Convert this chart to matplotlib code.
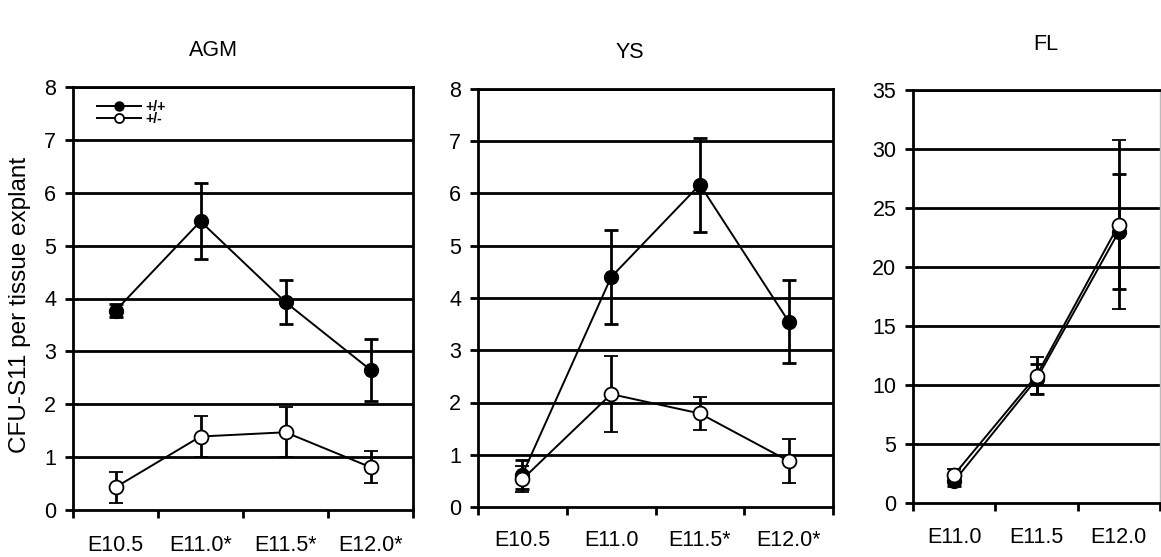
import matplotlib
matplotlib.use("Agg")
import matplotlib.pyplot as plt
import numpy as np

plt.rcParams['font.family'] = ['Liberation Sans', 'DejaVu Sans']

# ---- data ----
agm_labels = ["E10.5", "E11.0*", "E11.5*", "E12.0*"]
agm_wt = [3.77, 5.46, 3.93, 2.65]
agm_wt_err = [0.12, 0.72, 0.42, 0.58]
agm_het = [0.43, 1.39, 1.47, 0.81]
agm_het_err = [0.29, 0.38, 0.47, 0.30]

ys_labels = ["E10.5", "E11.0", "E11.5*", "E12.0*"]
ys_wt = [0.62, 4.40, 6.17, 3.55]
ys_wt_err = [0.28, 0.90, 0.90, 0.80]
ys_het = [0.53, 2.16, 1.79, 0.88]
ys_het_err = [0.25, 0.73, 0.31, 0.43]

fl_labels = ["E11.0", "E11.5", "E12.0"]
fl_wt = [1.85, 10.5, 23.0]
fl_wt_err = [0.4, 1.3, 4.9]
fl_het = [2.4, 10.8, 23.6]
fl_het_err = [0.5, 1.6, 7.2]

titles = ["AGM", "YS", "FL"]
ylabel = "CFU-S11 per tissue explant"
legend_labels = ["+/+", "+/-"]

W, H = 1161, 557
fig = plt.figure(figsize=(W / 100, H / 100), dpi=100)

def px_axes(l, r, t, b):
    return fig.add_axes([l / W, 1 - b / H, (r - l) / W, (b - t) / H])

ax1 = px_axes(73, 413, 87, 510)
ax2 = px_axes(478, 833, 89, 507)
ax3 = px_axes(913, 1160, 90, 503)

def draw(ax, labels, wt, wte, het, hete, ymax, ystep, xpad, right_color='black'):
    n = len(labels)
    x = np.arange(n) + 0.5
    for yv in np.arange(ystep, ymax + 0.001, ystep):
        ax.axhline(yv, color='black', lw=2.0, zorder=1)
    h1 = ax.errorbar(x, wt, yerr=wte, color='black', lw=1.4, elinewidth=2.0,
                     capsize=5, capthick=2.0, marker='o', ms=10,
                     mfc='black', mec='black', zorder=3)
    h2 = ax.errorbar(x, het, yerr=hete, color='black', lw=1.4, elinewidth=2.0,
                     capsize=5, capthick=2.0, marker='o', ms=10,
                     mfc='white', mec='black', mew=1.3, zorder=4)
    ax.set_xlim(0, n)
    ax.set_ylim(0, ymax)
    ax.set_yticks(np.arange(0, ymax + 0.001, ystep))
    ax.set_xticks(np.arange(0, n + 1))
    ax.set_xticklabels([])
    ax.set_xticks(x, minor=True)
    ax.set_xticklabels(labels, minor=True, fontsize=15.5)
    ax.tick_params(axis='x', which='minor', length=0, pad=xpad)
    ax.tick_params(axis='x', which='major', direction='out', length=6, width=2)
    ax.tick_params(axis='y', direction='out', length=6, width=2, labelsize=15.5, pad=6)
    for s in ['left', 'bottom', 'top']:
        ax.spines[s].set_linewidth(2)
        ax.spines[s].set_color('black')
    ax.spines['right'].set_color(right_color)
    ax.spines['right'].set_linewidth(2 if right_color == 'black' else 1)
    return h1, h2

h1, h2 = draw(ax1, agm_labels, agm_wt, agm_wt_err, agm_het, agm_het_err, 8, 1, 18)
draw(ax2, ys_labels, ys_wt, ys_wt_err, ys_het, ys_het_err, 8, 1, 16.6)
draw(ax3, fl_labels, fl_wt, fl_wt_err, fl_het, fl_het_err, 35, 5, 17, right_color='#bbbbbb')

leg = ax1.legend([h1.lines[0], h2.lines[0]], legend_labels, loc='upper left',
                 bbox_to_anchor=(0.045, 0.99), frameon=False, fontsize=10,
                 handlelength=3.2, markerscale=0.65, labelspacing=-0.1,
                 handletextpad=0.3, borderaxespad=0.2)
for t in leg.get_texts():
    t.set_fontweight('bold')

fig.text(213 / W, 1 - 50 / H, titles[0], ha='center', va='center', fontsize=15.5)
fig.text(630 / W, 1 - 52 / H, titles[1], ha='center', va='center', fontsize=15.5)
fig.text(1046 / W, 1 - 45 / H, titles[2], ha='center', va='center', fontsize=15.5)
fig.text(20 / W, 1 - 305 / H, ylabel, ha='center', va='center', rotation=90, fontsize=17.5)

fig.savefig("out.png", dpi=100)
